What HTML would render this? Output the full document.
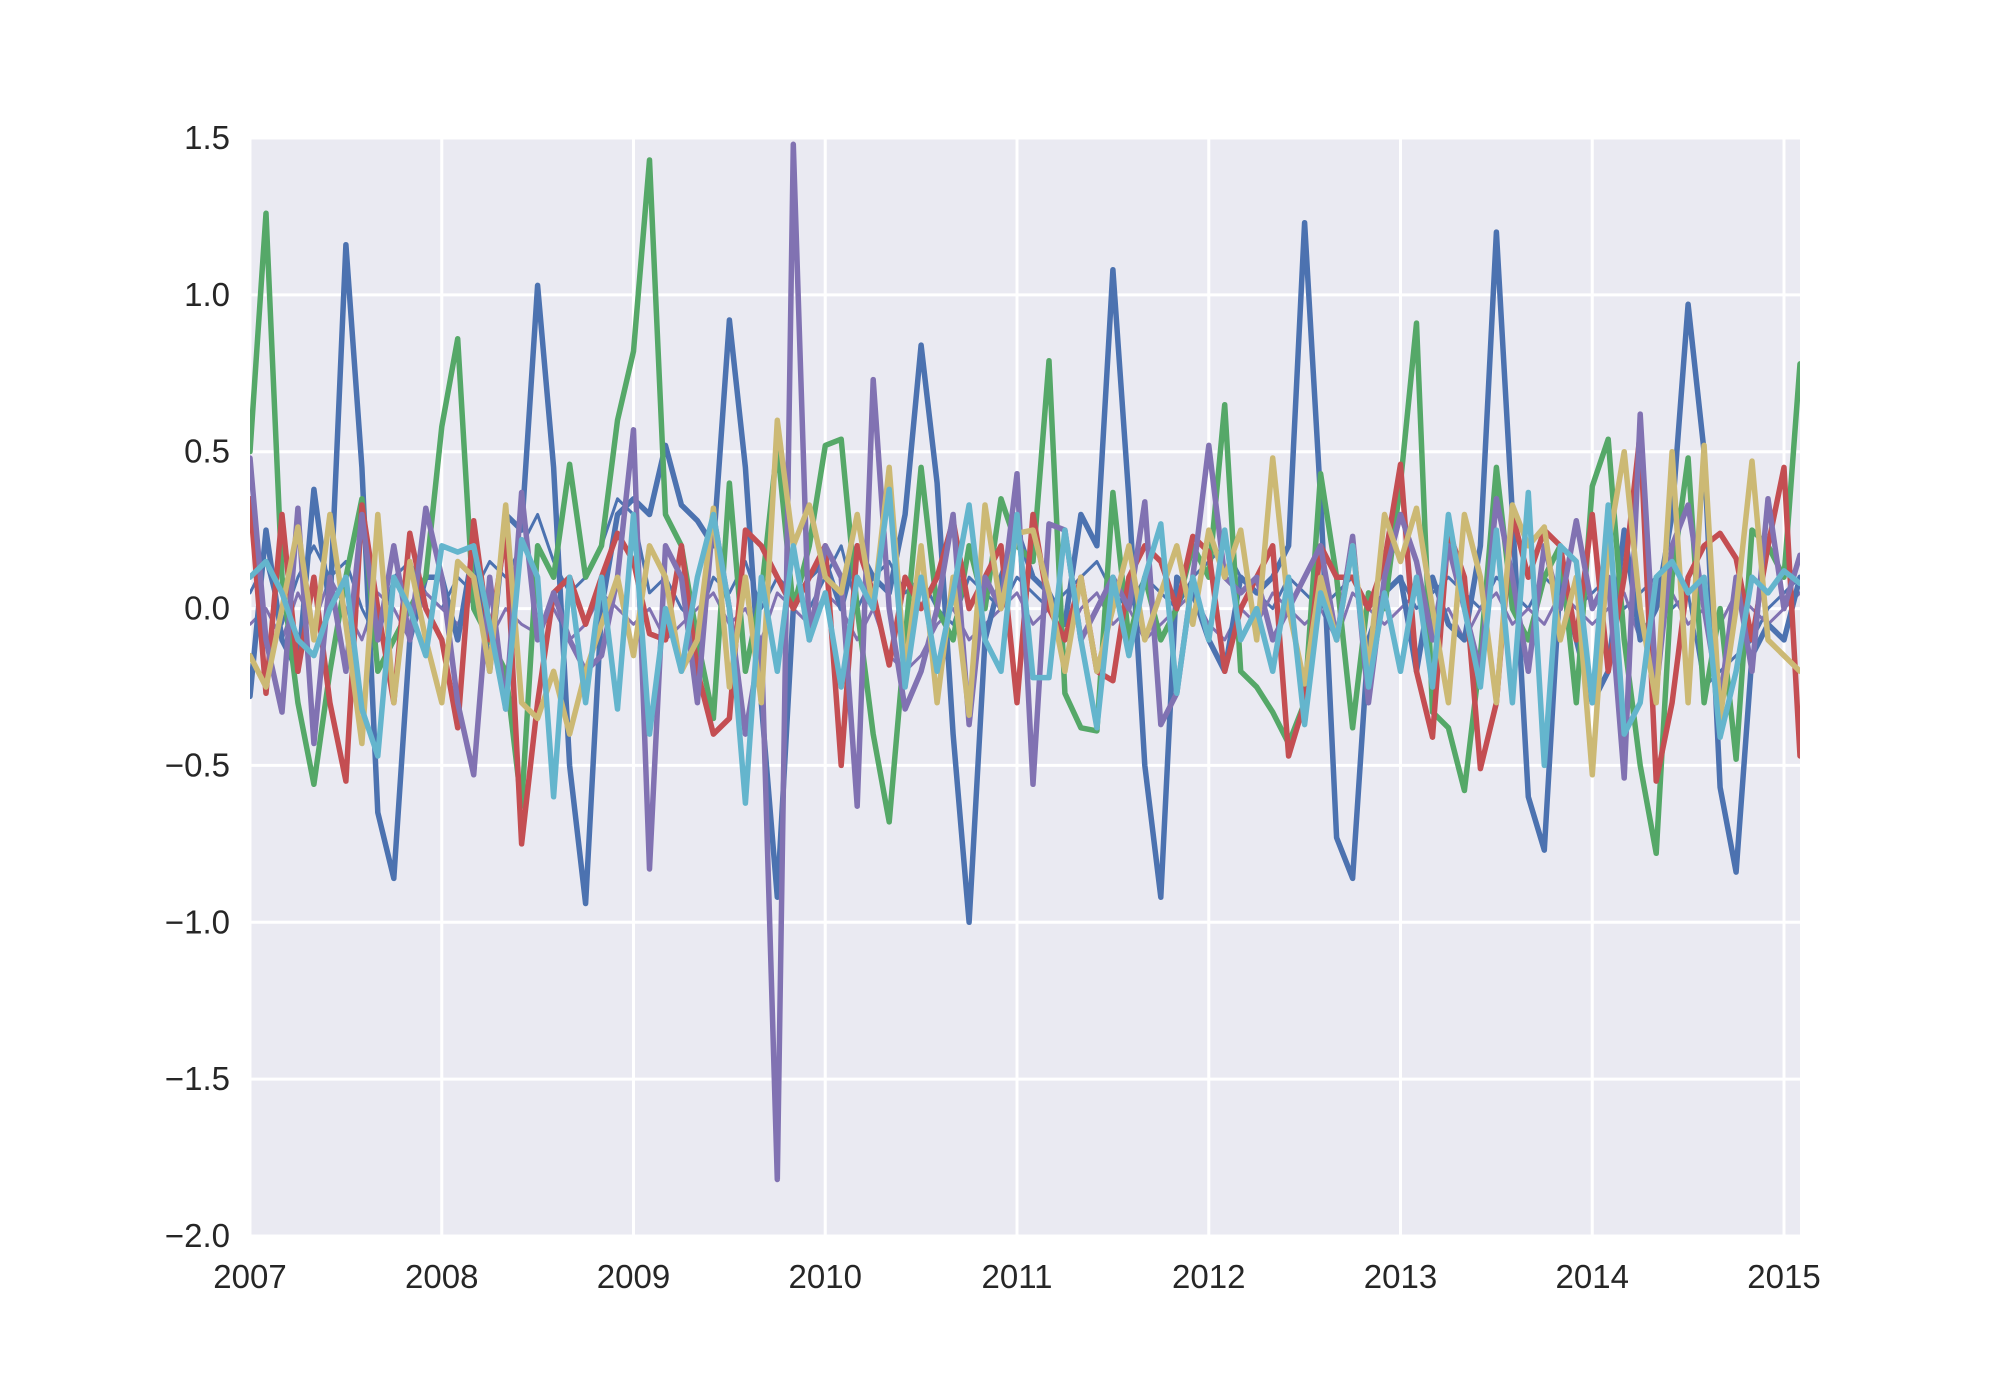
<!DOCTYPE html>
<html><head><meta charset="utf-8"><style>
html,body{margin:0;padding:0;background:#fff;}
svg{display:block;font-family:"Liberation Sans",sans-serif;}
</style></head><body>
<svg id="chart" width="2000" height="1375" viewBox="0 0 2000 1375">
<rect x="250" y="138" width="1550" height="1098" fill="#EAEAF2"/>
<g id="grid"></g>
<g id="series"></g>
<g id="yticks"></g>
<g id="xticks"></g>
</svg>
<script>
const yTicks = [1.5, 1.0, 0.5, 0.0, -0.5, -1.0, -1.5, -2.0];
const yTickLabels = ["1.5","1.0","0.5","0.0","\u22120.5","\u22121.0","\u22121.5","\u22122.0"];
const xTickYears = [2007,2008,2009,2010,2011,2012,2013,2014,2015];
const seriesBlue = [-0.28,0.25,-0.1,-0.2,0.38,0.0,1.16,0.45,-0.65,-0.86,-0.1,0.1,
0.1,-0.1,0.2,-0.2,0.3,0.25,1.03,0.45,-0.5,-0.94,0.0,0.3,
0.35,0.3,0.52,0.33,0.28,0.2,0.92,0.45,-0.3,-0.92,0.0,0.1,
0.15,0.0,0.2,0.1,0.05,0.3,0.84,0.4,-0.4,-1.0,-0.1,0.1,
0.25,0.1,0.05,-0.05,0.3,0.2,1.08,0.35,-0.5,-0.92,0.1,0.05,
-0.1,-0.2,0.1,0.05,0.1,0.2,1.23,0.35,-0.73,-0.86,-0.1,0.05,
0.1,-0.2,0.1,-0.05,-0.1,0.2,1.2,0.3,-0.6,-0.77,0.1,-0.1,
-0.3,-0.2,0.25,-0.1,0.0,0.3,0.97,0.5,-0.57,-0.84,-0.15,-0.05,
-0.1,0.1];
const seriesGreen = [0.5,1.26,0.1,-0.3,-0.56,-0.2,0.1,0.35,-0.2,-0.1,0.0,0.1,
0.58,0.86,0.0,-0.1,-0.2,-0.63,0.2,0.1,0.46,0.1,0.2,0.6,
0.82,1.43,0.3,0.2,-0.1,-0.35,0.4,-0.2,0.05,0.52,0.0,0.2,
0.52,0.54,0.0,-0.4,-0.68,-0.1,0.45,0.0,-0.1,0.2,0.0,0.35,
0.2,0.15,0.79,-0.27,-0.38,-0.39,0.37,-0.1,0.1,-0.1,0.0,0.2,
0.1,0.65,-0.2,-0.25,-0.33,-0.43,-0.3,0.43,0.1,-0.38,0.05,0.0,
0.4,0.91,-0.33,-0.38,-0.58,-0.15,0.45,0.0,-0.1,0.1,0.2,-0.3,
0.39,0.54,-0.1,-0.5,-0.78,0.1,0.48,-0.3,0.0,-0.48,0.25,0.2,
0.1,0.78];
const seriesRed = [0.35,-0.27,0.3,-0.2,0.1,-0.3,-0.55,0.33,0.0,-0.3,0.24,0.0,
-0.1,-0.38,0.28,-0.1,0.25,-0.75,-0.3,0.05,0.1,-0.05,0.1,0.24,
0.15,-0.08,-0.1,0.2,-0.2,-0.4,-0.35,0.25,0.2,0.1,0.0,0.1,
0.2,-0.5,0.2,0.05,-0.18,0.1,0.0,0.1,0.28,0.0,0.1,0.2,
-0.3,0.3,0.0,-0.1,0.1,-0.2,-0.23,0.1,0.2,0.15,0.0,0.23,
0.18,-0.2,0.0,0.1,0.2,-0.47,-0.3,0.2,0.1,0.1,0.0,0.15,
0.46,-0.2,-0.41,0.25,0.1,-0.51,-0.3,0.3,0.1,0.25,0.2,-0.1,
0.3,-0.2,0.1,0.56,-0.55,-0.3,0.1,0.2,0.24,0.16,-0.1,0.2,
0.45,-0.47];
const seriesPurple = [0.48,-0.1,-0.33,0.32,-0.43,0.1,-0.2,0.3,-0.1,0.2,-0.1,0.32,
0.1,-0.3,-0.53,0.1,-0.32,0.37,-0.1,0.05,-0.1,-0.2,-0.15,0.1,
0.57,-0.83,0.2,0.1,-0.3,0.3,0.0,-0.4,-0.1,-1.82,1.48,-0.1,
0.2,0.1,-0.63,0.73,0.0,-0.32,-0.2,0.0,0.3,-0.37,0.1,0.0,
0.43,-0.56,0.27,0.25,-0.1,0.0,0.1,0.0,0.34,-0.37,-0.27,0.1,
0.52,0.1,0.05,0.1,-0.1,0.0,0.1,0.2,-0.1,0.23,-0.3,0.1,
0.3,0.15,-0.1,0.2,0.0,-0.2,0.35,0.1,-0.2,0.2,0.0,0.28,
0.0,0.1,-0.54,0.62,-0.26,0.2,0.33,0.0,-0.3,0.1,-0.2,0.35,
0.0,0.17];
const seriesYellow = [-0.15,-0.25,0.0,0.26,-0.1,0.3,-0.05,-0.43,0.3,-0.3,0.15,-0.1,
-0.3,0.15,0.1,-0.2,0.33,-0.3,-0.35,-0.2,-0.4,-0.2,-0.05,0.1,
-0.15,0.2,0.1,-0.2,-0.1,0.32,-0.25,0.1,-0.3,0.6,0.2,0.33,
0.1,0.05,0.3,0.0,0.45,-0.2,0.2,-0.3,0.1,-0.34,0.33,0.0,
0.24,0.25,0.05,-0.2,0.1,-0.2,0.0,0.2,-0.1,0.05,0.2,-0.05,
0.25,0.1,0.25,-0.1,0.48,0.0,-0.24,0.1,-0.1,0.2,-0.2,0.3,
0.15,0.32,0.0,-0.3,0.3,0.1,-0.3,0.33,0.2,0.26,-0.1,0.1,
-0.53,0.2,0.5,0.0,-0.3,0.5,-0.3,0.52,-0.35,0.0,0.47,-0.1,
-0.15,-0.2];
const seriesCyan = [0.1,0.15,0.05,-0.1,-0.15,0.0,0.1,-0.32,-0.47,0.1,0.0,-0.15,
0.2,0.18,0.2,-0.05,-0.32,0.22,0.1,-0.6,0.1,-0.3,0.1,-0.32,
0.3,-0.4,0.0,-0.2,0.1,0.3,0.0,-0.62,0.1,-0.2,0.2,-0.1,
0.05,-0.25,0.1,0.0,0.38,-0.25,0.1,-0.2,0.05,0.33,-0.1,-0.2,
0.3,-0.22,-0.22,0.25,-0.1,-0.38,0.1,-0.15,0.1,0.27,-0.27,0.1,
-0.1,0.25,-0.1,0.0,-0.2,0.1,-0.37,0.05,-0.1,0.2,-0.25,0.05,
-0.2,0.1,-0.25,0.3,0.0,-0.25,0.25,-0.3,0.37,-0.5,0.2,0.15,
-0.3,0.33,-0.4,-0.3,0.1,0.15,0.05,0.1,-0.41,-0.2,0.1,0.05,
0.12,0.08];
const seriesThinBlue = [0.05,0.15,-0.05,0.1,0.2,0.1,0.15,0.0,-0.1,0.1,0.15,0.05,
0.0,0.1,0.05,0.15,0.1,0.2,0.3,0.15,0.05,0.1,0.2,0.35,
0.3,0.05,0.1,0.0,-0.05,0.1,0.05,0.15,0.0,0.1,0.05,0.0,
0.1,0.2,0.0,0.1,0.15,0.05,0.1,0.0,-0.05,0.1,0.05,0.0,
0.1,0.05,0.0,0.05,0.1,0.15,0.05,0.0,0.1,0.05,0.0,0.1,
0.15,0.2,0.1,0.05,0.0,0.1,0.05,0.0,0.05,0.1,0.0,0.05,
0.1,0.0,0.05,0.1,0.05,0.0,0.1,0.05,0.0,0.1,0.05,0.0,
0.05,0.1,0.0,0.05,0.1,0.0,0.05,-0.25,-0.2,-0.15,-0.1,0.0,
0.05,0.1];
const seriesThinPurple = [-0.05,0.0,-0.1,0.05,-0.05,0.1,0.0,-0.1,0.05,0.0,-0.1,0.05,
0.0,-0.05,0.05,-0.1,0.0,-0.05,-0.08,0.0,-0.1,-0.05,0.05,0.0,
-0.05,0.0,-0.1,-0.05,0.0,0.05,-0.05,0.0,-0.1,0.05,0.0,-0.05,
0.05,0.0,-0.1,0.0,-0.15,-0.2,-0.15,-0.05,0.0,-0.1,-0.05,0.0,
0.05,-0.05,0.0,-0.1,0.0,0.05,-0.05,0.0,-0.1,-0.05,0.0,0.05,
-0.05,-0.1,0.0,-0.05,0.05,0.0,-0.05,0.0,-0.1,0.05,0.0,-0.05,
0.0,0.05,-0.05,0.0,-0.1,0.0,0.05,-0.05,0.0,-0.05,0.05,0.0,
-0.05,0.0,0.05,-0.1,0.0,0.05,-0.05,0.0,-0.05,0.05,0.0,-0.05,
0.0,0.05];

const L=250,R=1800,T=138,B=1236, yMin=-2.0, yMax=1.5;
function xScale(monthIndex){ return L + monthIndex*(191.75/12); }
function xYear(year){ return L + (year-2007)*191.75; }
function yScale(v){ return T + (yMax-v)/(yMax-yMin)*(B-T); }
const NS="http://www.w3.org/2000/svg";
function mk(tag,attrs){const e=document.createElementNS(NS,tag);for(const k in attrs)e.setAttribute(k,attrs[k]);return e;}

const grid=document.getElementById('grid');
yTicks.forEach((t,i)=>{
  const ln=mk('line',{x1:L,x2:R,y1:yScale(t),y2:yScale(t),stroke:'#fff','stroke-width':3});
  
  
  grid.appendChild(ln);
  const tx=mk('text',{x:230,y:yScale(t)+11,'text-anchor':'end','font-size':33,fill:'#262626'});
  tx.textContent=yTickLabels[i];
  
  
  document.getElementById('yticks').appendChild(tx);
});
xTickYears.forEach(yr=>{
  const x=xYear(yr);
  const ln=mk('line',{x1:x,x2:x,y1:T,y2:B,stroke:'#fff','stroke-width':3});
  
  
  grid.appendChild(ln);
  const tx=mk('text',{x:x,y:1288,'text-anchor':'middle','font-size':33,fill:'#262626'});
  tx.textContent=String(yr);
  
  
  document.getElementById('xticks').appendChild(tx);
});

const seriesList=[
  [seriesThinBlue,'#4C72B0',3,'series-thin-blue'],
  [seriesThinPurple,'#8172B2',3,'series-thin-purple'],
  [seriesBlue,'#4C72B0',5.5,'series-blue'],
  [seriesGreen,'#55A868',5.5,'series-green'],
  [seriesRed,'#C44E52',5.5,'series-red'],
  [seriesPurple,'#8172B2',5.5,'series-purple'],
  [seriesYellow,'#CCB974',5.5,'series-yellow'],
  [seriesCyan,'#64B5CD',5.5,'series-cyan']
];
const sg=document.getElementById('series');
const clip=mk('clipPath',{id:'clipArea'});
clip.appendChild(mk('rect',{x:L,y:T,width:R-L,height:B-T}));
document.getElementById('chart').insertBefore(clip,document.getElementById('chart').firstChild);
sg.setAttribute('clip-path','url(#clipArea)');
seriesList.forEach(s=>{
  const pts=s[0].map((v,i)=>xScale(i).toFixed(1)+','+yScale(v).toFixed(1)).join(' ');
  const pl=mk('polyline',{points:pts,fill:'none',stroke:s[1],'stroke-width':s[2],'stroke-linejoin':'round','stroke-linecap':'round'});
  
  
  sg.appendChild(pl);
});
</script>
</body></html>
